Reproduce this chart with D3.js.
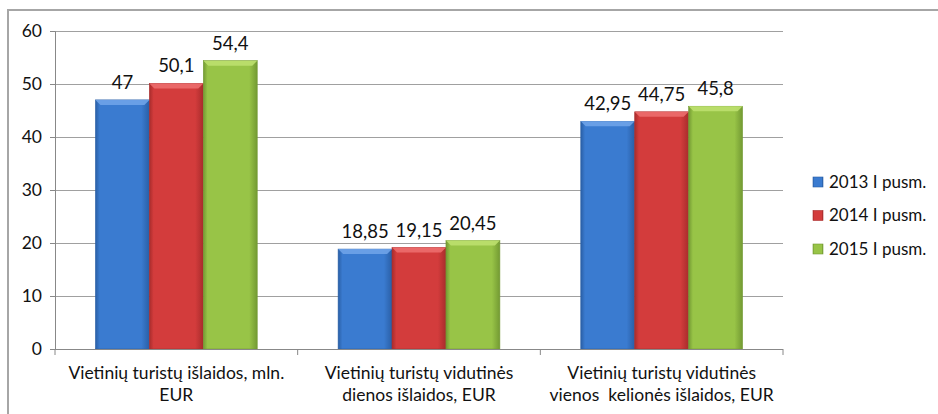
<!DOCTYPE html>
<html>
<head>
<meta charset="utf-8">
<script src="https://cdn.jsdelivr.net/npm/d3@7"></script>
<style>
  body { margin: 0; background: #fff; }
  svg { display: block; font-family: Lato, "Open Sans", sans-serif; }
</style>
</head>
<body>
<div class="chart"></div>
<script>
const categories = [
  ["Vietinių turistų išlaidos, mln.", "EUR"],
  ["Vietinių turistų vidutinės", "dienos išlaidos, EUR"],
  ["Vietinių turistų vidutinės", "vienos  kelionės išlaidos, EUR"]
];
const seriesNames = ["2013 I pusm.", "2014 I pusm.", "2015 I pusm."];
const values2013 = [47, 18.85, 42.95];
const values2014 = [50.1, 19.15, 44.75];
const values2015 = [54.4, 20.45, 45.8];
const labels2013 = ["47", "18,85", "42,95"];
const labels2014 = ["50,1", "19,15", "44,75"];
const labels2015 = ["54,4", "20,45", "45,8"];
const yTicks = [0, 10, 20, 30, 40, 50, 60];

const width = 938, height = 414;
const margin = {top: 31, left: 55, right: 155, bottom: 65};
const colors = ["#3a7bd0", "#d33c3c", "#98c447"];
const darks = ["#2a5fa6", "#a82c2c", "#739a33"];
const lights = ["#6fa3e8", "#ec6d6d", "#bde06e"];

const series = [
  {name: seriesNames[0], values: values2013, labels: labels2013},
  {name: seriesNames[1], values: values2014, labels: labels2014},
  {name: seriesNames[2], values: values2015, labels: labels2015}
];

const svg = d3.select(".chart").append("svg")
    .attr("width", width)
    .attr("height", height)
    .attr("viewBox", [0, 0, width, height]);

// gradients for the bevelled look
const defs = svg.append("defs");
series.forEach((s, k) => {
  const g = defs.append("linearGradient")
      .attr("id", "grad" + k)
      .attr("x1", 0).attr("x2", 1).attr("y1", 0).attr("y2", 0);
  g.append("stop").attr("offset", "0%").attr("stop-color", darks[k]);
  g.append("stop").attr("offset", "8%").attr("stop-color", colors[k]);
  g.append("stop").attr("offset", "85%").attr("stop-color", colors[k]);
  g.append("stop").attr("offset", "100%").attr("stop-color", darks[k]);
});

// outer frame
svg.append("rect")
    .attr("x", 8).attr("y", 10)
    .attr("width", 950).attr("height", 420)
    .attr("fill", "none")
    .attr("stroke", "#a6a6a6")
    .attr("stroke-width", 2);

const x0 = d3.scaleBand()
    .domain(d3.range(categories.length))
    .range([margin.left, width - margin.right]);

const x1 = d3.scaleBand()
    .domain(d3.range(series.length))
    .range([0, x0.bandwidth()])
    .paddingOuter(0.75)
    .paddingInner(0);

const y = d3.scaleLinear()
    .domain([0, 60])
    .range([height - margin.bottom, margin.top]);

// gridlines
svg.append("g")
    .selectAll("line")
    .data(yTicks.filter(d => d > 0))
    .join("line")
    .attr("x1", margin.left)
    .attr("x2", width - margin.right)
    .attr("y1", d => y(d) + 0.5)
    .attr("y2", d => y(d) + 0.5)
    .attr("stroke", "#a0a0a0")
    .attr("stroke-width", 1);

// y axis
svg.append("g")
    .attr("transform", `translate(${margin.left},0)`)
    .call(d3.axisLeft(y).tickValues(yTicks).tickSize(5).tickPadding(8))
    .call(g => g.select(".domain").attr("stroke", "#888"))
    .call(g => g.selectAll(".tick line").attr("stroke", "#888"))
    .call(g => g.selectAll(".tick text")
        .attr("font-size", 17.5)
        .attr("font-family", "Lato, sans-serif")
        .attr("fill", "#111"));

// bars
const groups = svg.append("g")
    .selectAll("g")
    .data(categories.map((c, i) => i))
    .join("g")
    .attr("transform", i => `translate(${x0(i)},0)`);

groups.selectAll("rect")
    .data(i => series.map((s, k) => ({k, v: s.values[i], label: s.labels[i]})))
    .join("rect")
    .attr("x", d => x1(d.k))
    .attr("y", d => y(d.v))
    .attr("width", x1.bandwidth())
    .attr("height", d => y(0) - y(d.v))
    .attr("fill", d => `url(#grad${d.k})`)
    .attr("stroke", d => darks[d.k])
    .attr("stroke-width", 0.6);

// bevel highlight on top of bars
groups.selectAll("path.top")
    .data(i => series.map((s, k) => ({k, v: s.values[i]})))
    .join("path")
    .attr("class", "top")
    .attr("d", d => {
      const xa = x1(d.k), xb = xa + x1.bandwidth(), ya = y(d.v);
      return `M${xa},${ya}L${xb},${ya}L${xb - 5},${ya + 5}L${xa + 5},${ya + 5}Z`;
    })
    .attr("fill", d => lights[d.k])
    .attr("opacity", 0.9);

groups.selectAll("text")
    .data(i => series.map((s, k) => ({k, v: s.values[i], label: s.labels[i]})))
    .join("text")
    .attr("x", d => x1(d.k) + x1.bandwidth() / 2)
    .attr("y", d => y(d.v) - 11)
    .attr("text-anchor", "middle")
    .attr("font-size", 18.5)
    .attr("fill", "#111")
    .text(d => d.label);

// x axis
const xAxis = svg.append("g")
    .attr("transform", `translate(0,${y(0)})`);
xAxis.append("line")
    .attr("x1", margin.left).attr("x2", width - margin.right)
    .attr("y1", 0.5).attr("y2", 0.5)
    .attr("stroke", "#888");
xAxis.selectAll("line.tick")
    .data(d3.range(categories.length + 1))
    .join("line")
    .attr("class", "tick")
    .attr("x1", i => i < categories.length ? x0(i) : x0(i - 1) + x0.bandwidth())
    .attr("x2", i => i < categories.length ? x0(i) : x0(i - 1) + x0.bandwidth())
    .attr("y1", 0).attr("y2", 6)
    .attr("stroke", "#888");

xAxis.selectAll("text")
    .data(categories.map((c, i) => i))
    .join("text")
    .attr("x", i => x0(i) + x0.bandwidth() / 2)
    .attr("y", 30)
    .attr("text-anchor", "middle")
    .attr("font-size", 17.5)
    .attr("fill", "#111")
    .each(function(i) {
      const t = d3.select(this);
      categories[i].forEach((line, j) => {
        t.append("tspan")
            .attr("x", x0(i) + x0.bandwidth() / 2)
            .attr("dy", j === 0 ? 0 : 22)
            .attr("xml:space", "preserve")
            .text(line);
      });
    });

// legend
const legend = svg.append("g")
    .attr("transform", "translate(813,182)");
const items = legend.selectAll("g")
    .data(series)
    .join("g")
    .attr("transform", (d, k) => `translate(0,${k * 33.5})`);
items.append("rect")
    .attr("x", 0).attr("y", -5)
    .attr("width", 10).attr("height", 10)
    .attr("fill", (d, k) => `url(#grad${k})`)
    .attr("stroke", (d, k) => darks[k])
    .attr("stroke-width", 0.6);
items.append("text")
    .attr("x", 16)
    .attr("y", 0)
    .attr("dy", "0.35em")
    .attr("font-size", 17)
    .attr("fill", "#111")
    .text(d => d.name);
</script>
</body>
</html>
